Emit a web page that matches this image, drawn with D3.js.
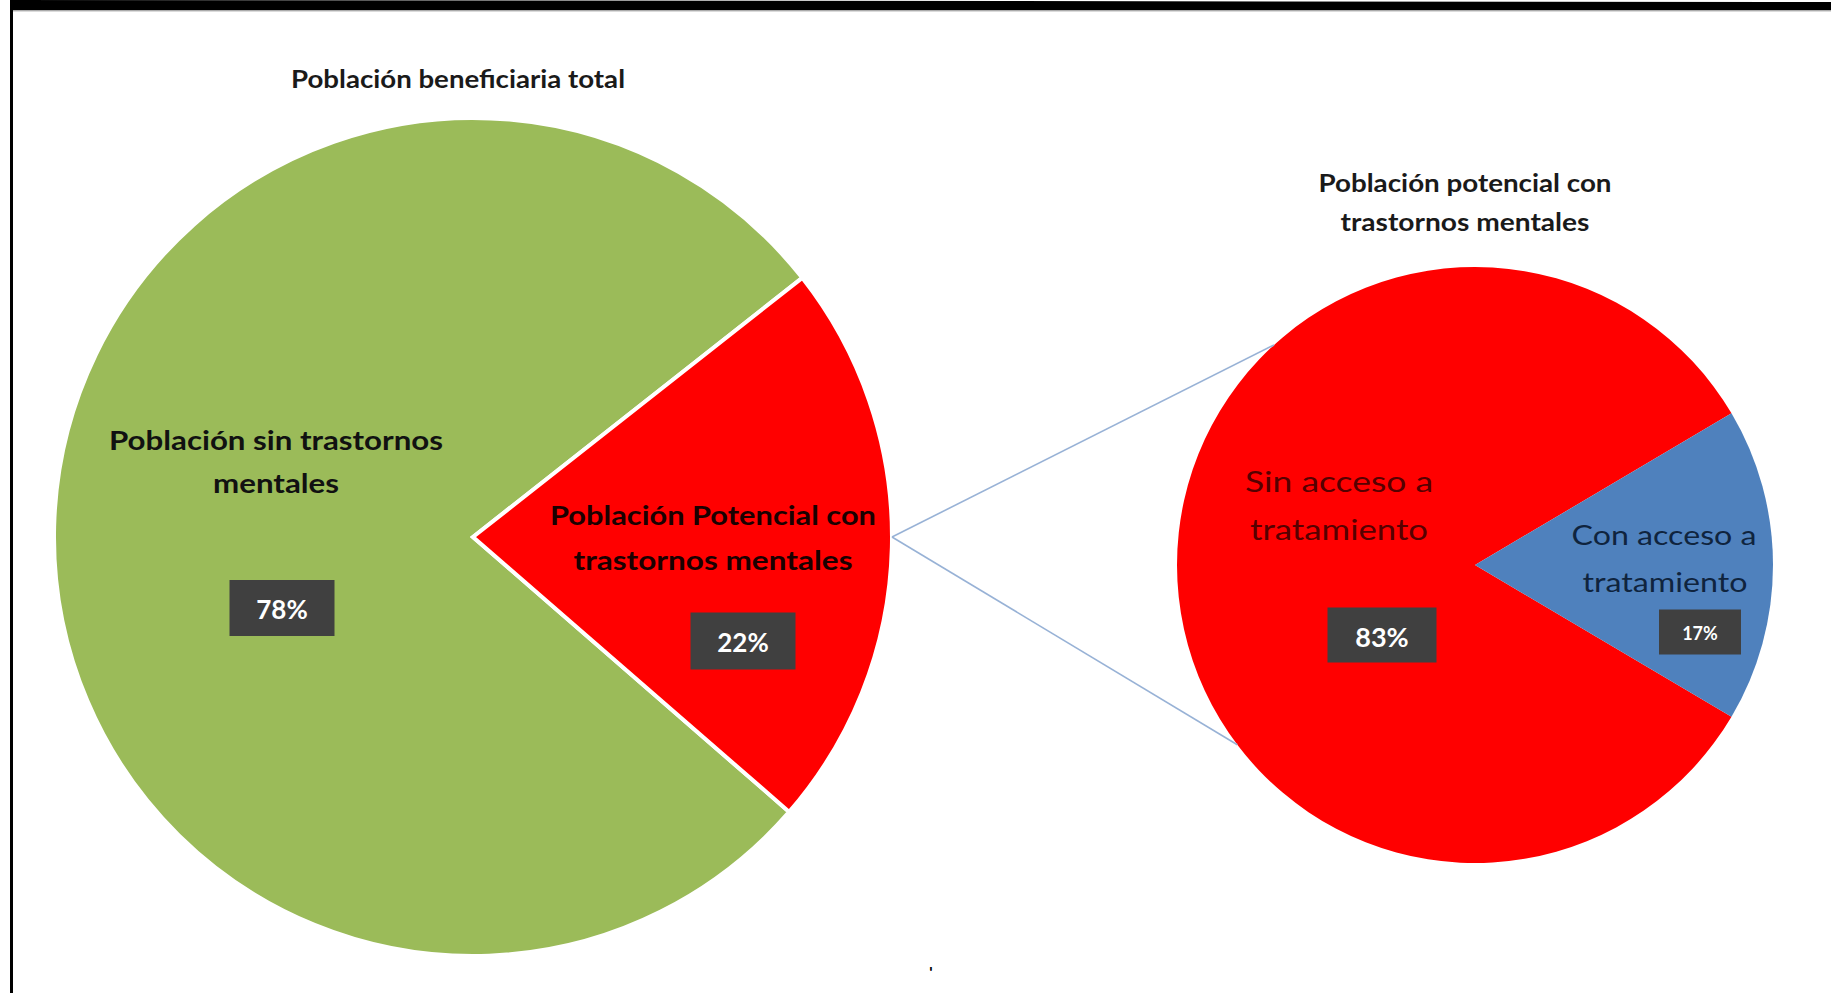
<!DOCTYPE html>
<html>
<head>
<meta charset="utf-8">
<script src="https://cdn.jsdelivr.net/npm/d3@7"></script>
<style>
  html, body { margin: 0; padding: 0; background: #ffffff; }
  svg { display: block; }
  text { font-family: Lato, "Open Sans", "DejaVu Sans", sans-serif; }
</style>
</head>
<body>
<svg id="chart" width="1831" height="993"></svg>
<script>
// ---------------- data ----------------
const mainCategories = ["Población sin trastornos mentales", "Población Potencial con trastornos mentales"];
const mainValues = [78, 22];
const subCategories = ["Sin acceso a tratamiento", "Con acceso a tratamiento"];
const subValues = [83, 17];
const mainTitle = "Población beneficiaria total";
const subTitle = ["Población potencial con", "trastornos mentales"];
const mainLabelLines = [["Población sin trastornos", "mentales"], ["Población Potencial con", "trastornos mentales"]];
const subLabelLines = [["Sin  acceso a", "tratamiento"], ["Con  acceso a", "tratamiento"]];

// ---------------- layout ----------------
const svg = d3.select("#chart");
const W = 1831, H = 993;
const deg = Math.PI / 180;

// frame
svg.append("polygon")
  .attr("points", [[10, 0], [W, 2], [W, 10], [10, 10]].map(p => p.join(",")).join(" "))
  .attr("fill", "#000");
svg.append("line").attr("x1", 10).attr("x2", W).attr("y1", 10.8).attr("y2", 10.8)
  .attr("stroke", "#888").attr("stroke-width", 1);
svg.append("rect").attr("x", 10).attr("y", 0).attr("width", 3).attr("height", H).attr("fill", "#000");

const mainColor = d3.scaleOrdinal().domain(mainCategories).range(["#9BBB59", "#FF0000"]);
const subColor = d3.scaleOrdinal().domain(subCategories).range(["#FF0000", "#4F81BD"]);

const main = { cx: 473, cy: 537, r: 419 };
const sub = { cx: 1475, cy: 565, r: 298 };

// main pie: red slice centred near 91°
const mainStart = 131 * deg;
const mainPie = d3.pie().sort(null).value(d => d.v)
  .startAngle(mainStart).endAngle(mainStart + 2 * Math.PI);
const mainArcs = mainPie(mainCategories.map((c, i) => ({ c, v: mainValues[i] })));
const mainArc = d3.arc().innerRadius(0).outerRadius(main.r);

const gMain = svg.append("g").attr("transform", `translate(${main.cx},${main.cy})`);
gMain.selectAll("path").data(mainArcs).join("path")
  .attr("d", mainArc)
  .attr("fill", d => mainColor(d.data.c))
  .attr("stroke", "#fff").attr("stroke-width", 4).attr("stroke-linejoin", "miter");

// secondary pie: blue slice centred on 90°
const subSum = d3.sum(subValues);
const subStart = (90 + subValues[1] / subSum * 180) * deg;
const subPie = d3.pie().sort(null).value(d => d.v)
  .startAngle(subStart).endAngle(subStart + 2 * Math.PI);
const subArcs = subPie(subCategories.map((c, i) => ({ c, v: subValues[i] })));
const subArc = d3.arc().innerRadius(0).outerRadius(sub.r);

const gSub = svg.append("g").attr("transform", `translate(${sub.cx},${sub.cy})`);
gSub.selectAll("path").data(subArcs).join("path")
  .attr("d", subArc)
  .attr("fill", d => subColor(d.data.c));

// connector lines
const fromPt = d3.pointRadial(90 * deg, main.r);
const toAngles = [-42.4 * deg, -127.1 * deg];
toAngles.forEach(a => {
  const p = d3.pointRadial(a, sub.r);
  svg.append("line")
    .attr("x1", main.cx + fromPt[0]).attr("y1", main.cy + fromPt[1])
    .attr("x2", sub.cx + p[0]).attr("y2", sub.cy + p[1])
    .attr("stroke", "#98B2D6").attr("stroke-width", 1.6);
});

// helper for text with width fitting
function txt(g, x, y, s, size, weight, fill, len) {
  const t = g.append("text")
    .attr("x", x).attr("y", y)
    .attr("text-anchor", "middle").attr("dominant-baseline", "central")
    .attr("font-size", size).attr("font-weight", weight).attr("fill", fill)
    .text(s);
  if (len) t.attr("textLength", len).attr("lengthAdjust", "spacingAndGlyphs");
  return t;
}
function pctBox(g, x, y, w, h, s, size) {
  g.append("rect").attr("x", x - w / 2).attr("y", y - h / 2).attr("width", w).attr("height", h)
    .attr("fill", "#404040");
  txt(g, x, y + 1, s, size, 700, "#ffffff");
}

// titles
txt(svg, 458, 78, mainTitle, 24, 700, "#1a1a1a", 334);
txt(svg, 1465, 182, subTitle[0], 25, 700, "#1a1a1a", 293);
txt(svg, 1465, 221, subTitle[1], 25, 700, "#1a1a1a", 249);

// main pie labels (relative to pie centre)
txt(gMain, -197, -98, mainLabelLines[0][0], 27, 700, "#111", 334);
txt(gMain, -197, -55, mainLabelLines[0][1], 27, 700, "#111", 126);
pctBox(gMain, -191, 71, 105, 56, mainValues[0] + "%", 26);

txt(gMain, 240, -23, mainLabelLines[1][0], 27, 700, "#1a0000", 326);
txt(gMain, 240, 22, mainLabelLines[1][1], 27, 700, "#1a0000", 279);
pctBox(gMain, 270, 104, 105, 57, mainValues[1] + "%", 26);

// secondary pie labels
txt(gSub, -136, -85, subLabelLines[0][0], 29, 400, "#560000", 188);
txt(gSub, -136, -37, subLabelLines[0][1], 29, 400, "#560000", 178);
pctBox(gSub, -93, 70, 109, 55, subValues[0] + "%", 27);

txt(gSub, 189, -30, subLabelLines[1][0], 26, 400, "#0f243e", 185);
txt(gSub, 190, 17, subLabelLines[1][1], 26, 400, "#0f243e", 165);
pctBox(gSub, 225, 67, 82, 45, subValues[1] + "%", 18);

// stray mark at bottom
svg.append("text").attr("x", 931).attr("y", 978).attr("text-anchor", "middle")
  .attr("font-size", 16).attr("font-weight", 700).attr("fill", "#000").text("'");
</script>
</body>
</html>
